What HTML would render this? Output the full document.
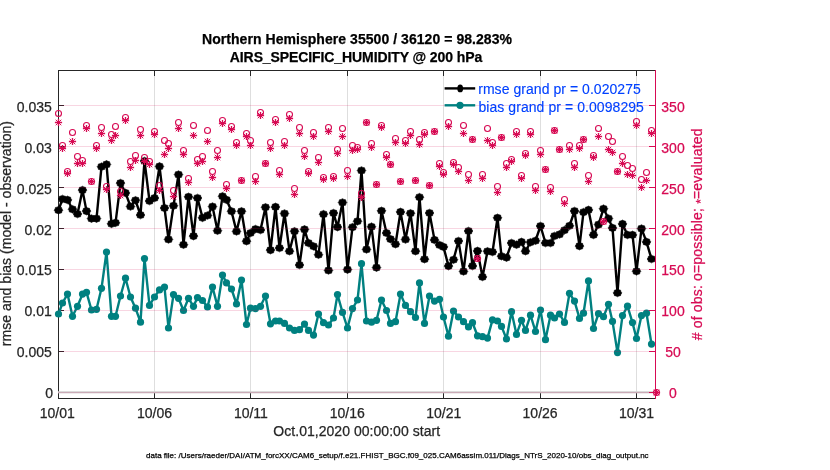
<!DOCTYPE html>
<html><head><meta charset="utf-8"><title>obs diag</title><style>
html,body{margin:0;padding:0;background:#fff;}
svg{display:block;will-change:transform;font-family:"Liberation Sans",sans-serif;}
text{stroke-width:0.25px;}
</style></head><body>
<svg width="830" height="470" viewBox="0 0 830 470">
<defs>
<path id="ms" d="M4.36,0.00L3.44,1.26L3.08,2.73L1.43,3.05L0.00,3.86L-1.43,3.05L-3.08,2.73L-3.44,1.26L-4.36,0.00L-3.44,-1.26L-3.08,-2.73L-1.43,-3.05L-0.00,-3.86L1.43,-3.05L3.08,-2.73L3.44,-1.26Z" fill="#000" stroke="#000" stroke-width="0.6" stroke-linejoin="round"/>
<circle id="md" r="3.6" fill="#008080"/>
<circle id="mo" r="3" fill="none" stroke="#d70a53" stroke-width="1.1"/>
<g id="ma" stroke="#d70a53" fill="none"><path d="M-3.6,0H3.6M0,-3.6V3.6" stroke-width="1.35"/><path d="M-2.5,-2.5L2.5,2.5M-2.5,2.5L2.5,-2.5" stroke-width="1.0" stroke-linecap="round"/></g>
</defs>
<rect width="830" height="470" fill="#fff"/>

<g shape-rendering="crispEdges" stroke-width="1" stroke="#dedede">
<line x1="154.5" y1="71" x2="154.5" y2="398"/>
<line x1="250.5" y1="71" x2="250.5" y2="398"/>
<line x1="347.5" y1="71" x2="347.5" y2="398"/>
<line x1="443.5" y1="71" x2="443.5" y2="398"/>
<line x1="540.5" y1="71" x2="540.5" y2="398"/>
<line x1="636.5" y1="71" x2="636.5" y2="398"/>
</g>
<g shape-rendering="crispEdges" stroke-width="1" stroke="#262626">
<line x1="58" y1="70.5" x2="656" y2="70.5"/>
<line x1="58" y1="398.5" x2="656" y2="398.5"/>
<line x1="58.5" y1="70" x2="58.5" y2="399"/>
<line x1="59" y1="392.5" x2="64" y2="392.5"/>
<line x1="59" y1="351.5" x2="64" y2="351.5"/>
<line x1="59" y1="310.5" x2="64" y2="310.5"/>
<line x1="59" y1="269.5" x2="64" y2="269.5"/>
<line x1="59" y1="228.5" x2="64" y2="228.5"/>
<line x1="59" y1="187.5" x2="64" y2="187.5"/>
<line x1="59" y1="146.5" x2="64" y2="146.5"/>
<line x1="59" y1="105.5" x2="64" y2="105.5"/>
<line x1="154.5" y1="392" x2="154.5" y2="398"/>
<line x1="154.5" y1="71" x2="154.5" y2="76"/>
<line x1="250.5" y1="392" x2="250.5" y2="398"/>
<line x1="250.5" y1="71" x2="250.5" y2="76"/>
<line x1="347.5" y1="392" x2="347.5" y2="398"/>
<line x1="347.5" y1="71" x2="347.5" y2="76"/>
<line x1="443.5" y1="392" x2="443.5" y2="398"/>
<line x1="443.5" y1="71" x2="443.5" y2="76"/>
<line x1="540.5" y1="392" x2="540.5" y2="398"/>
<line x1="540.5" y1="71" x2="540.5" y2="76"/>
<line x1="636.5" y1="392" x2="636.5" y2="398"/>
<line x1="636.5" y1="71" x2="636.5" y2="76"/>
</g>
<line x1="58" y1="392.3" x2="656" y2="392.3" stroke="#cfcfcf" stroke-width="2"/>
<line x1="58" y1="392.6" x2="656" y2="392.6" stroke="#c9a6b3" stroke-width="1"/>
<polyline points="58.5,210.2 62.5,199 67.5,199.9 72.5,209.3 77.5,214 82.5,190.1 86.5,211.1 91.5,218.6 96.5,218.6 101.5,166.7 106.5,164.4 111.5,223.8 115.5,222.8 120.5,183.1 125.5,192.9 130.5,206.5 135.5,200.3 140.5,215 144.5,161 149.5,201 154.5,198 159.5,166.4 164.5,208 168.5,239.4 173.5,205.7 178.5,174.6 183.5,244.7 188.5,196.8 193.5,236.1 197.5,198 202.5,217.8 207.5,215.5 212.5,206.6 217.5,230.7 222.5,196.3 226.5,199.8 231.5,211.3 236.5,231.4 241.5,211.3 246.5,241.2 250.5,233 255.5,229.1 260.5,230 265.5,207.3 270.5,250.1 275.5,206.9 279.5,248 284.5,213.5 289.5,251.2 294.5,231.3 299.5,265 304.5,229.4 308.5,243 313.5,246.3 318.5,254.7 323.5,214.2 328.5,270.4 333.5,213.1 337.5,227.1 342.5,202.5 347.5,269.6 352.5,227.2 357.5,221.3 361.5,170.5 366.5,249.4 371.5,226.7 376.5,267.6 381.5,210.8 386.5,233 390.5,239.1 395.5,244.2 400.5,211.9 405.5,239.5 410.5,213.3 415.5,251.2 419.5,197.2 424.5,259.2 429.5,213 434.5,239.9 439.5,245 443.5,246.9 448.5,266.1 453.5,259.7 458.5,241 463.5,271.4 468.5,231 472.5,266 477.5,250.9 482.5,276.9 487.5,251.3 492.5,252 497.5,217.8 501.5,256.2 506.5,257.6 511.5,243 516.5,244.7 521.5,241.9 525.5,251.2 530.5,242.3 535.5,240.7 540.5,226 545.5,243 550.5,243 554.5,236 559.5,234.4 564.5,230.2 569.5,225.8 574.5,211 579.5,246.1 583.5,212.2 588.5,209.9 593.5,234.9 598.5,224.6 603.5,208.7 608.5,218.5 612.5,227.9 617.5,292.9 622.5,223.9 627.5,234.9 632.5,234.9 636.5,271.3 641.5,228.6 646.5,241.9 651.5,259" fill="none" stroke="#000" stroke-width="2.4" stroke-linejoin="round"/>
<use href="#ms" x="58.5" y="210.2"/>
<use href="#ms" x="62.5" y="199"/>
<use href="#ms" x="67.5" y="199.9"/>
<use href="#ms" x="72.5" y="209.3"/>
<use href="#ms" x="77.5" y="214"/>
<use href="#ms" x="82.5" y="190.1"/>
<use href="#ms" x="86.5" y="211.1"/>
<use href="#ms" x="91.5" y="218.6"/>
<use href="#ms" x="96.5" y="218.6"/>
<use href="#ms" x="101.5" y="166.7"/>
<use href="#ms" x="106.5" y="164.4"/>
<use href="#ms" x="111.5" y="223.8"/>
<use href="#ms" x="115.5" y="222.8"/>
<use href="#ms" x="120.5" y="183.1"/>
<use href="#ms" x="125.5" y="192.9"/>
<use href="#ms" x="130.5" y="206.5"/>
<use href="#ms" x="135.5" y="200.3"/>
<use href="#ms" x="140.5" y="215"/>
<use href="#ms" x="144.5" y="161"/>
<use href="#ms" x="149.5" y="201"/>
<use href="#ms" x="154.5" y="198"/>
<use href="#ms" x="159.5" y="166.4"/>
<use href="#ms" x="164.5" y="208"/>
<use href="#ms" x="168.5" y="239.4"/>
<use href="#ms" x="173.5" y="205.7"/>
<use href="#ms" x="178.5" y="174.6"/>
<use href="#ms" x="183.5" y="244.7"/>
<use href="#ms" x="188.5" y="196.8"/>
<use href="#ms" x="193.5" y="236.1"/>
<use href="#ms" x="197.5" y="198"/>
<use href="#ms" x="202.5" y="217.8"/>
<use href="#ms" x="207.5" y="215.5"/>
<use href="#ms" x="212.5" y="206.6"/>
<use href="#ms" x="217.5" y="230.7"/>
<use href="#ms" x="222.5" y="196.3"/>
<use href="#ms" x="226.5" y="199.8"/>
<use href="#ms" x="231.5" y="211.3"/>
<use href="#ms" x="236.5" y="231.4"/>
<use href="#ms" x="241.5" y="211.3"/>
<use href="#ms" x="246.5" y="241.2"/>
<use href="#ms" x="250.5" y="233"/>
<use href="#ms" x="255.5" y="229.1"/>
<use href="#ms" x="260.5" y="230"/>
<use href="#ms" x="265.5" y="207.3"/>
<use href="#ms" x="270.5" y="250.1"/>
<use href="#ms" x="275.5" y="206.9"/>
<use href="#ms" x="279.5" y="248"/>
<use href="#ms" x="284.5" y="213.5"/>
<use href="#ms" x="289.5" y="251.2"/>
<use href="#ms" x="294.5" y="231.3"/>
<use href="#ms" x="299.5" y="265"/>
<use href="#ms" x="304.5" y="229.4"/>
<use href="#ms" x="308.5" y="243"/>
<use href="#ms" x="313.5" y="246.3"/>
<use href="#ms" x="318.5" y="254.7"/>
<use href="#ms" x="323.5" y="214.2"/>
<use href="#ms" x="328.5" y="270.4"/>
<use href="#ms" x="333.5" y="213.1"/>
<use href="#ms" x="337.5" y="227.1"/>
<use href="#ms" x="342.5" y="202.5"/>
<use href="#ms" x="347.5" y="269.6"/>
<use href="#ms" x="352.5" y="227.2"/>
<use href="#ms" x="357.5" y="221.3"/>
<use href="#ms" x="361.5" y="170.5"/>
<use href="#ms" x="366.5" y="249.4"/>
<use href="#ms" x="371.5" y="226.7"/>
<use href="#ms" x="376.5" y="267.6"/>
<use href="#ms" x="381.5" y="210.8"/>
<use href="#ms" x="386.5" y="233"/>
<use href="#ms" x="390.5" y="239.1"/>
<use href="#ms" x="395.5" y="244.2"/>
<use href="#ms" x="400.5" y="211.9"/>
<use href="#ms" x="405.5" y="239.5"/>
<use href="#ms" x="410.5" y="213.3"/>
<use href="#ms" x="415.5" y="251.2"/>
<use href="#ms" x="419.5" y="197.2"/>
<use href="#ms" x="424.5" y="259.2"/>
<use href="#ms" x="429.5" y="213"/>
<use href="#ms" x="434.5" y="239.9"/>
<use href="#ms" x="439.5" y="245"/>
<use href="#ms" x="443.5" y="246.9"/>
<use href="#ms" x="448.5" y="266.1"/>
<use href="#ms" x="453.5" y="259.7"/>
<use href="#ms" x="458.5" y="241"/>
<use href="#ms" x="463.5" y="271.4"/>
<use href="#ms" x="468.5" y="231"/>
<use href="#ms" x="472.5" y="266"/>
<use href="#ms" x="477.5" y="250.9"/>
<use href="#ms" x="482.5" y="276.9"/>
<use href="#ms" x="487.5" y="251.3"/>
<use href="#ms" x="492.5" y="252"/>
<use href="#ms" x="497.5" y="217.8"/>
<use href="#ms" x="501.5" y="256.2"/>
<use href="#ms" x="506.5" y="257.6"/>
<use href="#ms" x="511.5" y="243"/>
<use href="#ms" x="516.5" y="244.7"/>
<use href="#ms" x="521.5" y="241.9"/>
<use href="#ms" x="525.5" y="251.2"/>
<use href="#ms" x="530.5" y="242.3"/>
<use href="#ms" x="535.5" y="240.7"/>
<use href="#ms" x="540.5" y="226"/>
<use href="#ms" x="545.5" y="243"/>
<use href="#ms" x="550.5" y="243"/>
<use href="#ms" x="554.5" y="236"/>
<use href="#ms" x="559.5" y="234.4"/>
<use href="#ms" x="564.5" y="230.2"/>
<use href="#ms" x="569.5" y="225.8"/>
<use href="#ms" x="574.5" y="211"/>
<use href="#ms" x="579.5" y="246.1"/>
<use href="#ms" x="583.5" y="212.2"/>
<use href="#ms" x="588.5" y="209.9"/>
<use href="#ms" x="593.5" y="234.9"/>
<use href="#ms" x="598.5" y="224.6"/>
<use href="#ms" x="603.5" y="208.7"/>
<use href="#ms" x="608.5" y="218.5"/>
<use href="#ms" x="612.5" y="227.9"/>
<use href="#ms" x="617.5" y="292.9"/>
<use href="#ms" x="622.5" y="223.9"/>
<use href="#ms" x="627.5" y="234.9"/>
<use href="#ms" x="632.5" y="234.9"/>
<use href="#ms" x="636.5" y="271.3"/>
<use href="#ms" x="641.5" y="228.6"/>
<use href="#ms" x="646.5" y="241.9"/>
<use href="#ms" x="651.5" y="259"/>
<polyline points="58.5,314 62.5,303 67.5,294.1 72.5,316.3 77.5,306.3 82.5,294.1 86.5,292.3 91.5,310 96.5,309.3 101.5,288.3 106.5,252 111.5,316.3 115.5,316.3 120.5,296 125.5,278.2 130.5,297 135.5,308.2 140.5,322.2 144.5,258.6 149.5,305.4 154.5,297 159.5,289.9 164.5,287.1 168.5,328 173.5,294.6 178.5,298.3 183.5,310.5 188.5,298.3 193.5,306.3 197.5,297.6 202.5,300.5 207.5,307 212.5,287.1 217.5,306.3 222.5,275 226.5,282.9 231.5,289 236.5,304 241.5,280.1 246.5,324.5 250.5,308.2 255.5,308.6 260.5,306.3 265.5,296 270.5,323.8 275.5,321 279.5,321 284.5,323.4 289.5,328 294.5,330.4 299.5,329.7 304.5,324.1 308.5,330.4 313.5,335.1 318.5,314 323.5,322.7 328.5,325 333.5,318 337.5,294.6 342.5,312.4 347.5,328 352.5,308.6 357.5,300 361.5,263.7 366.5,321 371.5,322.2 376.5,320.3 381.5,300 386.5,310.5 390.5,323.4 395.5,321.7 400.5,294.1 405.5,305.4 410.5,311.7 415.5,317.5 419.5,282.9 424.5,323.4 429.5,296 434.5,301.1 439.5,299.3 443.5,317 448.5,336.2 453.5,311 458.5,317 463.5,321.7 468.5,326.9 472.5,322.7 477.5,335.8 482.5,336.7 487.5,338.1 492.5,319.9 497.5,321 501.5,326.4 506.5,339 511.5,311.7 516.5,334.4 521.5,320.3 525.5,330.4 530.5,315.2 535.5,331.5 540.5,310 545.5,339.7 550.5,315.2 554.5,318 559.5,314 564.5,322.4 569.5,293.3 574.5,301.1 579.5,318.4 583.5,313.2 588.5,280.9 593.5,328.5 598.5,313.7 603.5,316.7 608.5,304.3 612.5,321.4 617.5,352.6 622.5,315.6 627.5,306.2 632.5,322.6 636.5,338.5 641.5,315.6 646.5,313.2 651.5,344.1" fill="none" stroke="#008080" stroke-width="2.4" stroke-linejoin="round"/>
<use href="#md" x="58.5" y="314"/>
<use href="#md" x="62.5" y="303"/>
<use href="#md" x="67.5" y="294.1"/>
<use href="#md" x="72.5" y="316.3"/>
<use href="#md" x="77.5" y="306.3"/>
<use href="#md" x="82.5" y="294.1"/>
<use href="#md" x="86.5" y="292.3"/>
<use href="#md" x="91.5" y="310"/>
<use href="#md" x="96.5" y="309.3"/>
<use href="#md" x="101.5" y="288.3"/>
<use href="#md" x="106.5" y="252"/>
<use href="#md" x="111.5" y="316.3"/>
<use href="#md" x="115.5" y="316.3"/>
<use href="#md" x="120.5" y="296"/>
<use href="#md" x="125.5" y="278.2"/>
<use href="#md" x="130.5" y="297"/>
<use href="#md" x="135.5" y="308.2"/>
<use href="#md" x="140.5" y="322.2"/>
<use href="#md" x="144.5" y="258.6"/>
<use href="#md" x="149.5" y="305.4"/>
<use href="#md" x="154.5" y="297"/>
<use href="#md" x="159.5" y="289.9"/>
<use href="#md" x="164.5" y="287.1"/>
<use href="#md" x="168.5" y="328"/>
<use href="#md" x="173.5" y="294.6"/>
<use href="#md" x="178.5" y="298.3"/>
<use href="#md" x="183.5" y="310.5"/>
<use href="#md" x="188.5" y="298.3"/>
<use href="#md" x="193.5" y="306.3"/>
<use href="#md" x="197.5" y="297.6"/>
<use href="#md" x="202.5" y="300.5"/>
<use href="#md" x="207.5" y="307"/>
<use href="#md" x="212.5" y="287.1"/>
<use href="#md" x="217.5" y="306.3"/>
<use href="#md" x="222.5" y="275"/>
<use href="#md" x="226.5" y="282.9"/>
<use href="#md" x="231.5" y="289"/>
<use href="#md" x="236.5" y="304"/>
<use href="#md" x="241.5" y="280.1"/>
<use href="#md" x="246.5" y="324.5"/>
<use href="#md" x="250.5" y="308.2"/>
<use href="#md" x="255.5" y="308.6"/>
<use href="#md" x="260.5" y="306.3"/>
<use href="#md" x="265.5" y="296"/>
<use href="#md" x="270.5" y="323.8"/>
<use href="#md" x="275.5" y="321"/>
<use href="#md" x="279.5" y="321"/>
<use href="#md" x="284.5" y="323.4"/>
<use href="#md" x="289.5" y="328"/>
<use href="#md" x="294.5" y="330.4"/>
<use href="#md" x="299.5" y="329.7"/>
<use href="#md" x="304.5" y="324.1"/>
<use href="#md" x="308.5" y="330.4"/>
<use href="#md" x="313.5" y="335.1"/>
<use href="#md" x="318.5" y="314"/>
<use href="#md" x="323.5" y="322.7"/>
<use href="#md" x="328.5" y="325"/>
<use href="#md" x="333.5" y="318"/>
<use href="#md" x="337.5" y="294.6"/>
<use href="#md" x="342.5" y="312.4"/>
<use href="#md" x="347.5" y="328"/>
<use href="#md" x="352.5" y="308.6"/>
<use href="#md" x="357.5" y="300"/>
<use href="#md" x="361.5" y="263.7"/>
<use href="#md" x="366.5" y="321"/>
<use href="#md" x="371.5" y="322.2"/>
<use href="#md" x="376.5" y="320.3"/>
<use href="#md" x="381.5" y="300"/>
<use href="#md" x="386.5" y="310.5"/>
<use href="#md" x="390.5" y="323.4"/>
<use href="#md" x="395.5" y="321.7"/>
<use href="#md" x="400.5" y="294.1"/>
<use href="#md" x="405.5" y="305.4"/>
<use href="#md" x="410.5" y="311.7"/>
<use href="#md" x="415.5" y="317.5"/>
<use href="#md" x="419.5" y="282.9"/>
<use href="#md" x="424.5" y="323.4"/>
<use href="#md" x="429.5" y="296"/>
<use href="#md" x="434.5" y="301.1"/>
<use href="#md" x="439.5" y="299.3"/>
<use href="#md" x="443.5" y="317"/>
<use href="#md" x="448.5" y="336.2"/>
<use href="#md" x="453.5" y="311"/>
<use href="#md" x="458.5" y="317"/>
<use href="#md" x="463.5" y="321.7"/>
<use href="#md" x="468.5" y="326.9"/>
<use href="#md" x="472.5" y="322.7"/>
<use href="#md" x="477.5" y="335.8"/>
<use href="#md" x="482.5" y="336.7"/>
<use href="#md" x="487.5" y="338.1"/>
<use href="#md" x="492.5" y="319.9"/>
<use href="#md" x="497.5" y="321"/>
<use href="#md" x="501.5" y="326.4"/>
<use href="#md" x="506.5" y="339"/>
<use href="#md" x="511.5" y="311.7"/>
<use href="#md" x="516.5" y="334.4"/>
<use href="#md" x="521.5" y="320.3"/>
<use href="#md" x="525.5" y="330.4"/>
<use href="#md" x="530.5" y="315.2"/>
<use href="#md" x="535.5" y="331.5"/>
<use href="#md" x="540.5" y="310"/>
<use href="#md" x="545.5" y="339.7"/>
<use href="#md" x="550.5" y="315.2"/>
<use href="#md" x="554.5" y="318"/>
<use href="#md" x="559.5" y="314"/>
<use href="#md" x="564.5" y="322.4"/>
<use href="#md" x="569.5" y="293.3"/>
<use href="#md" x="574.5" y="301.1"/>
<use href="#md" x="579.5" y="318.4"/>
<use href="#md" x="583.5" y="313.2"/>
<use href="#md" x="588.5" y="280.9"/>
<use href="#md" x="593.5" y="328.5"/>
<use href="#md" x="598.5" y="313.7"/>
<use href="#md" x="603.5" y="316.7"/>
<use href="#md" x="608.5" y="304.3"/>
<use href="#md" x="612.5" y="321.4"/>
<use href="#md" x="617.5" y="352.6"/>
<use href="#md" x="622.5" y="315.6"/>
<use href="#md" x="627.5" y="306.2"/>
<use href="#md" x="632.5" y="322.6"/>
<use href="#md" x="636.5" y="338.5"/>
<use href="#md" x="641.5" y="315.6"/>
<use href="#md" x="646.5" y="313.2"/>
<use href="#md" x="651.5" y="344.1"/>
<g shape-rendering="crispEdges" stroke-width="1" stroke="#d70a53" stroke-opacity="0.17">
<line x1="64" y1="351.5" x2="649" y2="351.5"/>
<line x1="64" y1="310.5" x2="649" y2="310.5"/>
<line x1="64" y1="269.5" x2="649" y2="269.5"/>
<line x1="64" y1="228.5" x2="649" y2="228.5"/>
<line x1="64" y1="187.5" x2="649" y2="187.5"/>
<line x1="64" y1="146.5" x2="649" y2="146.5"/>
<line x1="64" y1="105.5" x2="649" y2="105.5"/>
</g>
<g shape-rendering="crispEdges" stroke-width="1" stroke="#d70a53" stroke-opacity="0.15">
<line x1="59" y1="351.5" x2="64" y2="351.5"/>
<line x1="59" y1="310.5" x2="64" y2="310.5"/>
<line x1="59" y1="269.5" x2="64" y2="269.5"/>
<line x1="59" y1="228.5" x2="64" y2="228.5"/>
<line x1="59" y1="187.5" x2="64" y2="187.5"/>
<line x1="59" y1="146.5" x2="64" y2="146.5"/>
<line x1="59" y1="105.5" x2="64" y2="105.5"/>
</g>
<use href="#mo" x="58.5" y="113.5"/>
<use href="#ma" x="58.5" y="122.5"/>
<use href="#mo" x="62.5" y="145.5"/>
<use href="#ma" x="62.5" y="148.5"/>
<use href="#mo" x="67.5" y="171.5"/>
<use href="#ma" x="67.5" y="173.5"/>
<use href="#mo" x="72.5" y="132.5"/>
<use href="#ma" x="72.5" y="141.5"/>
<use href="#mo" x="77.5" y="156.5"/>
<use href="#ma" x="77.5" y="163.5"/>
<use href="#mo" x="82.5" y="160.5"/>
<use href="#ma" x="82.5" y="163.5"/>
<use href="#mo" x="86.5" y="125.5"/>
<use href="#ma" x="86.5" y="128.5"/>
<use href="#mo" x="91.5" y="181.5"/>
<use href="#ma" x="91.5" y="181.5"/>
<use href="#mo" x="96.5" y="145.5"/>
<use href="#ma" x="96.5" y="148.5"/>
<use href="#mo" x="101.5" y="127.5"/>
<use href="#ma" x="101.5" y="133.5"/>
<use href="#mo" x="106.5" y="186.5"/>
<use href="#ma" x="106.5" y="189.5"/>
<use href="#mo" x="111.5" y="134.5"/>
<use href="#ma" x="111.5" y="140.5"/>
<use href="#mo" x="115.5" y="126.5"/>
<use href="#ma" x="115.5" y="135.5"/>
<use href="#mo" x="120.5" y="191.5"/>
<use href="#ma" x="120.5" y="195.5"/>
<use href="#mo" x="125.5" y="117.5"/>
<use href="#ma" x="125.5" y="120.5"/>
<use href="#mo" x="130.5" y="161.5"/>
<use href="#ma" x="130.5" y="167.5"/>
<use href="#mo" x="135.5" y="155.5"/>
<use href="#ma" x="135.5" y="160.5"/>
<use href="#mo" x="140.5" y="129.5"/>
<use href="#ma" x="140.5" y="135.5"/>
<use href="#mo" x="144.5" y="157.5"/>
<use href="#ma" x="144.5" y="161.5"/>
<use href="#mo" x="149.5" y="161.5"/>
<use href="#ma" x="149.5" y="164.5"/>
<use href="#mo" x="154.5" y="131.5"/>
<use href="#ma" x="154.5" y="134.5"/>
<use href="#mo" x="159.5" y="185.5"/>
<use href="#ma" x="159.5" y="190.5"/>
<use href="#mo" x="164.5" y="140.5"/>
<use href="#ma" x="164.5" y="154.5"/>
<use href="#mo" x="168.5" y="143.5"/>
<use href="#ma" x="168.5" y="148.5"/>
<use href="#mo" x="173.5" y="190.5"/>
<use href="#ma" x="173.5" y="196.5"/>
<use href="#mo" x="178.5" y="122.5"/>
<use href="#ma" x="178.5" y="128.5"/>
<use href="#mo" x="183.5" y="150.5"/>
<use href="#ma" x="183.5" y="154.5"/>
<use href="#mo" x="188.5" y="178.5"/>
<use href="#ma" x="188.5" y="182.5"/>
<use href="#mo" x="193.5" y="125.5"/>
<use href="#ma" x="193.5" y="135.5"/>
<use href="#mo" x="197.5" y="159.5"/>
<use href="#ma" x="197.5" y="163.5"/>
<use href="#mo" x="202.5" y="156.5"/>
<use href="#ma" x="202.5" y="161.5"/>
<use href="#mo" x="207.5" y="130.5"/>
<use href="#ma" x="207.5" y="141.5"/>
<use href="#mo" x="212.5" y="171.5"/>
<use href="#ma" x="212.5" y="177.5"/>
<use href="#mo" x="217.5" y="150.5"/>
<use href="#ma" x="217.5" y="157.5"/>
<use href="#mo" x="222.5" y="120.5"/>
<use href="#ma" x="222.5" y="123.5"/>
<use href="#mo" x="226.5" y="184.5"/>
<use href="#ma" x="226.5" y="188.5"/>
<use href="#mo" x="231.5" y="126.5"/>
<use href="#ma" x="231.5" y="129.5"/>
<use href="#mo" x="236.5" y="142.5"/>
<use href="#ma" x="236.5" y="145.5"/>
<use href="#mo" x="241.5" y="180.5"/>
<use href="#ma" x="241.5" y="180.5"/>
<use href="#mo" x="246.5" y="133.5"/>
<use href="#ma" x="246.5" y="136.5"/>
<use href="#mo" x="250.5" y="140.5"/>
<use href="#ma" x="250.5" y="145.5"/>
<use href="#mo" x="255.5" y="176.5"/>
<use href="#ma" x="255.5" y="181.5"/>
<use href="#mo" x="260.5" y="112.5"/>
<use href="#ma" x="260.5" y="115.5"/>
<use href="#mo" x="265.5" y="163.5"/>
<use href="#ma" x="265.5" y="163.5"/>
<use href="#mo" x="270.5" y="142.5"/>
<use href="#ma" x="270.5" y="148.5"/>
<use href="#mo" x="275.5" y="119.5"/>
<use href="#ma" x="275.5" y="122.5"/>
<use href="#mo" x="279.5" y="170.5"/>
<use href="#ma" x="279.5" y="174.5"/>
<use href="#mo" x="284.5" y="141.5"/>
<use href="#ma" x="284.5" y="145.5"/>
<use href="#mo" x="289.5" y="114.5"/>
<use href="#ma" x="289.5" y="118.5"/>
<use href="#mo" x="294.5" y="188.5"/>
<use href="#ma" x="294.5" y="194.5"/>
<use href="#mo" x="299.5" y="127.5"/>
<use href="#ma" x="299.5" y="133.5"/>
<use href="#mo" x="304.5" y="150.5"/>
<use href="#ma" x="304.5" y="156.5"/>
<use href="#mo" x="308.5" y="171.5"/>
<use href="#ma" x="308.5" y="173.5"/>
<use href="#mo" x="313.5" y="132.5"/>
<use href="#ma" x="313.5" y="136.5"/>
<use href="#mo" x="318.5" y="157.5"/>
<use href="#ma" x="318.5" y="162.5"/>
<use href="#mo" x="323.5" y="177.5"/>
<use href="#ma" x="323.5" y="179.5"/>
<use href="#mo" x="328.5" y="127.5"/>
<use href="#ma" x="328.5" y="131.5"/>
<use href="#mo" x="333.5" y="176.5"/>
<use href="#ma" x="333.5" y="178.5"/>
<use href="#mo" x="337.5" y="149.5"/>
<use href="#ma" x="337.5" y="153.5"/>
<use href="#mo" x="342.5" y="128.5"/>
<use href="#ma" x="342.5" y="136.5"/>
<use href="#mo" x="347.5" y="170.5"/>
<use href="#ma" x="347.5" y="176.5"/>
<use href="#mo" x="352.5" y="145.5"/>
<use href="#ma" x="352.5" y="150.5"/>
<use href="#mo" x="357.5" y="147.5"/>
<use href="#ma" x="357.5" y="149.5"/>
<use href="#mo" x="361.5" y="193.5"/>
<use href="#ma" x="361.5" y="197.5"/>
<use href="#mo" x="366.5" y="122.5"/>
<use href="#ma" x="366.5" y="122.5"/>
<use href="#mo" x="371.5" y="143.5"/>
<use href="#ma" x="371.5" y="147.5"/>
<use href="#mo" x="376.5" y="184.5"/>
<use href="#ma" x="376.5" y="184.5"/>
<use href="#mo" x="381.5" y="125.5"/>
<use href="#ma" x="381.5" y="127.5"/>
<use href="#mo" x="386.5" y="154.5"/>
<use href="#ma" x="386.5" y="157.5"/>
<use href="#mo" x="390.5" y="164.5"/>
<use href="#ma" x="390.5" y="164.5"/>
<use href="#mo" x="395.5" y="138.5"/>
<use href="#ma" x="395.5" y="142.5"/>
<use href="#mo" x="400.5" y="181.5"/>
<use href="#ma" x="400.5" y="181.5"/>
<use href="#mo" x="405.5" y="140.5"/>
<use href="#ma" x="405.5" y="143.5"/>
<use href="#mo" x="410.5" y="131.5"/>
<use href="#ma" x="410.5" y="135.5"/>
<use href="#mo" x="415.5" y="180.5"/>
<use href="#ma" x="415.5" y="180.5"/>
<use href="#mo" x="419.5" y="139.5"/>
<use href="#ma" x="419.5" y="144.5"/>
<use href="#mo" x="424.5" y="132.5"/>
<use href="#ma" x="424.5" y="134.5"/>
<use href="#mo" x="429.5" y="185.5"/>
<use href="#ma" x="429.5" y="185.5"/>
<use href="#mo" x="434.5" y="131.5"/>
<use href="#ma" x="434.5" y="131.5"/>
<use href="#mo" x="439.5" y="163.5"/>
<use href="#ma" x="439.5" y="166.5"/>
<use href="#mo" x="443.5" y="172.5"/>
<use href="#ma" x="443.5" y="174.5"/>
<use href="#mo" x="448.5" y="122.5"/>
<use href="#ma" x="448.5" y="126.5"/>
<use href="#mo" x="453.5" y="162.5"/>
<use href="#ma" x="453.5" y="164.5"/>
<use href="#mo" x="458.5" y="167.5"/>
<use href="#ma" x="458.5" y="171.5"/>
<use href="#mo" x="463.5" y="125.5"/>
<use href="#ma" x="463.5" y="133.5"/>
<use href="#mo" x="468.5" y="174.5"/>
<use href="#ma" x="468.5" y="180.5"/>
<use href="#mo" x="472.5" y="139.5"/>
<use href="#ma" x="472.5" y="139.5"/>
<use href="#mo" x="477.5" y="258.5"/>
<use href="#ma" x="477.5" y="258.5"/>
<use href="#mo" x="482.5" y="174.5"/>
<use href="#ma" x="482.5" y="178.5"/>
<use href="#mo" x="487.5" y="128.5"/>
<use href="#ma" x="487.5" y="140.5"/>
<use href="#mo" x="492.5" y="142.5"/>
<use href="#ma" x="492.5" y="145.5"/>
<use href="#mo" x="497.5" y="186.5"/>
<use href="#ma" x="497.5" y="192.5"/>
<use href="#mo" x="501.5" y="137.5"/>
<use href="#ma" x="501.5" y="137.5"/>
<use href="#mo" x="506.5" y="163.5"/>
<use href="#ma" x="506.5" y="167.5"/>
<use href="#mo" x="511.5" y="159.5"/>
<use href="#ma" x="511.5" y="161.5"/>
<use href="#mo" x="516.5" y="131.5"/>
<use href="#ma" x="516.5" y="134.5"/>
<use href="#mo" x="521.5" y="175.5"/>
<use href="#ma" x="521.5" y="178.5"/>
<use href="#mo" x="525.5" y="153.5"/>
<use href="#ma" x="525.5" y="155.5"/>
<use href="#mo" x="530.5" y="131.5"/>
<use href="#ma" x="530.5" y="134.5"/>
<use href="#mo" x="535.5" y="186.5"/>
<use href="#ma" x="535.5" y="190.5"/>
<use href="#mo" x="540.5" y="150.5"/>
<use href="#ma" x="540.5" y="154.5"/>
<use href="#mo" x="545.5" y="169.5"/>
<use href="#ma" x="545.5" y="169.5"/>
<use href="#mo" x="550.5" y="187.5"/>
<use href="#ma" x="550.5" y="191.5"/>
<use href="#mo" x="554.5" y="130.5"/>
<use href="#ma" x="554.5" y="130.5"/>
<use href="#mo" x="559.5" y="149.5"/>
<use href="#ma" x="559.5" y="149.5"/>
<use href="#mo" x="564.5" y="199.5"/>
<use href="#ma" x="564.5" y="203.5"/>
<use href="#mo" x="569.5" y="145.5"/>
<use href="#ma" x="569.5" y="149.5"/>
<use href="#mo" x="574.5" y="163.5"/>
<use href="#ma" x="574.5" y="167.5"/>
<use href="#mo" x="579.5" y="145.5"/>
<use href="#ma" x="579.5" y="148.5"/>
<use href="#mo" x="583.5" y="139.5"/>
<use href="#ma" x="583.5" y="139.5"/>
<use href="#mo" x="588.5" y="175.5"/>
<use href="#ma" x="588.5" y="181.5"/>
<use href="#mo" x="593.5" y="155.5"/>
<use href="#ma" x="593.5" y="157.5"/>
<use href="#mo" x="598.5" y="128.5"/>
<use href="#ma" x="598.5" y="136.5"/>
<use href="#mo" x="603.5" y="221.5"/>
<use href="#ma" x="603.5" y="221.5"/>
<use href="#mo" x="608.5" y="136.5"/>
<use href="#ma" x="608.5" y="149.5"/>
<use href="#mo" x="612.5" y="141.5"/>
<use href="#ma" x="612.5" y="152.5"/>
<use href="#mo" x="617.5" y="171.5"/>
<use href="#ma" x="617.5" y="171.5"/>
<use href="#mo" x="622.5" y="156.5"/>
<use href="#ma" x="622.5" y="163.5"/>
<use href="#mo" x="627.5" y="165.5"/>
<use href="#ma" x="627.5" y="174.5"/>
<use href="#mo" x="632.5" y="168.5"/>
<use href="#ma" x="632.5" y="175.5"/>
<use href="#mo" x="636.5" y="121.5"/>
<use href="#ma" x="636.5" y="125.5"/>
<use href="#mo" x="641.5" y="179.5"/>
<use href="#ma" x="641.5" y="187.5"/>
<use href="#mo" x="646.5" y="172.5"/>
<use href="#ma" x="646.5" y="180.5"/>
<use href="#mo" x="651.5" y="130.5"/>
<use href="#ma" x="651.5" y="133.5"/>
<use href="#mo" x="656.5" y="392.5"/>
<use href="#ma" x="656.5" y="392.5"/>
<g shape-rendering="crispEdges" stroke-width="1" stroke="#d70a53">
<line x1="655.5" y1="70" x2="655.5" y2="399"/>
<line x1="649" y1="392.5" x2="655" y2="392.5"/>
<line x1="649" y1="351.5" x2="655" y2="351.5"/>
<line x1="649" y1="310.5" x2="655" y2="310.5"/>
<line x1="649" y1="269.5" x2="655" y2="269.5"/>
<line x1="649" y1="228.5" x2="655" y2="228.5"/>
<line x1="649" y1="187.5" x2="655" y2="187.5"/>
<line x1="649" y1="146.5" x2="655" y2="146.5"/>
<line x1="649" y1="105.5" x2="655" y2="105.5"/>
</g>
<line x1="444.6" y1="88.4" x2="475.2" y2="88.4" stroke="#000" stroke-width="2.4"/>
<ellipse cx="460.2" cy="88.4" rx="2.9" ry="3.9" fill="#000"/>
<line x1="444.6" y1="105.3" x2="475.2" y2="105.3" stroke="#008080" stroke-width="2.4"/>
<use href="#md" x="460" y="105.3"/>
<text style="stroke-width:0.12px" x="478.2" y="93.5" font-size="14" textLength="162.6" lengthAdjust="spacing" fill="#0041ff" stroke="#0041ff">rmse grand pr = 0.020275</text>
<text style="stroke-width:0.12px" x="478.4" y="111.6" font-size="14" textLength="165.5" lengthAdjust="spacing" fill="#0041ff" stroke="#0041ff">bias grand pr = 0.0098295</text>
<text x="357" y="44" font-size="14" font-weight="bold" text-anchor="middle" textLength="310" lengthAdjust="spacing" fill="#000" stroke="#000">Northern Hemisphere 35500 / 36120 = 98.283%</text>
<text x="356" y="61.7" font-size="14" font-weight="bold" text-anchor="middle" textLength="252.4" lengthAdjust="spacing" fill="#000" stroke="#000">AIRS_SPECIFIC_HUMIDITY @ 200 hPa</text>
<text x="53" y="397.8" font-size="14" text-anchor="end" fill="#262626" stroke="#262626">0</text>
<text x="673" y="397.8" font-size="14" text-anchor="middle" fill="#d70a53" stroke="#d70a53">0</text>
<text x="51.8" y="356.9" font-size="14" text-anchor="end" fill="#262626" stroke="#262626">0.005</text>
<text x="673" y="356.9" font-size="14" text-anchor="middle" fill="#d70a53" stroke="#d70a53">50</text>
<text x="51.8" y="316.2" font-size="14" text-anchor="end" fill="#262626" stroke="#262626">0.01</text>
<text x="673" y="316.2" font-size="14" text-anchor="middle" fill="#d70a53" stroke="#d70a53">100</text>
<text x="51.8" y="274.9" font-size="14" text-anchor="end" fill="#262626" stroke="#262626">0.015</text>
<text x="673" y="274.9" font-size="14" text-anchor="middle" fill="#d70a53" stroke="#d70a53">150</text>
<text x="51.8" y="234.7" font-size="14" text-anchor="end" fill="#262626" stroke="#262626">0.02</text>
<text x="673" y="234.7" font-size="14" text-anchor="middle" fill="#d70a53" stroke="#d70a53">200</text>
<text x="51.8" y="194" font-size="14" text-anchor="end" fill="#262626" stroke="#262626">0.025</text>
<text x="673" y="194" font-size="14" text-anchor="middle" fill="#d70a53" stroke="#d70a53">250</text>
<text x="51.8" y="152.9" font-size="14" text-anchor="end" fill="#262626" stroke="#262626">0.03</text>
<text x="673" y="152.9" font-size="14" text-anchor="middle" fill="#d70a53" stroke="#d70a53">300</text>
<text x="51.8" y="111.8" font-size="14" text-anchor="end" fill="#262626" stroke="#262626">0.035</text>
<text x="673" y="111.8" font-size="14" text-anchor="middle" fill="#d70a53" stroke="#d70a53">350</text>
<text x="57.3" y="417.7" font-size="14" text-anchor="middle" fill="#262626" stroke="#262626">10/01</text>
<text x="154.5" y="417.7" font-size="14" text-anchor="middle" fill="#262626" stroke="#262626">10/06</text>
<text x="250.9" y="417.7" font-size="14" text-anchor="middle" fill="#262626" stroke="#262626">10/11</text>
<text x="347.3" y="417.7" font-size="14" text-anchor="middle" fill="#262626" stroke="#262626">10/16</text>
<text x="443.7" y="417.7" font-size="14" text-anchor="middle" fill="#262626" stroke="#262626">10/21</text>
<text x="540.1" y="417.7" font-size="14" text-anchor="middle" fill="#262626" stroke="#262626">10/26</text>
<text x="636.5" y="417.7" font-size="14" text-anchor="middle" fill="#262626" stroke="#262626">10/31</text>
<text x="356.7" y="435.7" font-size="14" text-anchor="middle" textLength="166.7" lengthAdjust="spacing" fill="#262626" stroke="#262626">Oct.01,2020 00:00:00 start</text>
<text transform="translate(10.6,233.6) rotate(-90)" font-size="14" text-anchor="middle" textLength="225.3" lengthAdjust="spacing" fill="#262626" stroke="#262626">rmse and bias (model - observation)</text>
<text transform="translate(702.2,234.4) rotate(-90)" font-size="14" text-anchor="middle" textLength="211.8" lengthAdjust="spacing" fill="#d70a53" stroke="#d70a53"># of obs: o=possible; <tspan dy="2.8" font-size="12">*</tspan><tspan dy="-2.8">=evaluated</tspan></text>
<text x="146" y="458.1" font-size="8" textLength="502.6" lengthAdjust="spacing" fill="#000" stroke="#000">data file: /Users/raeder/DAI/ATM_forcXX/CAM6_setup/f.e21.FHIST_BGC.f09_025.CAM6assim.011/Diags_NTrS_2020-10/obs_diag_output.nc</text>
</svg></body></html>
